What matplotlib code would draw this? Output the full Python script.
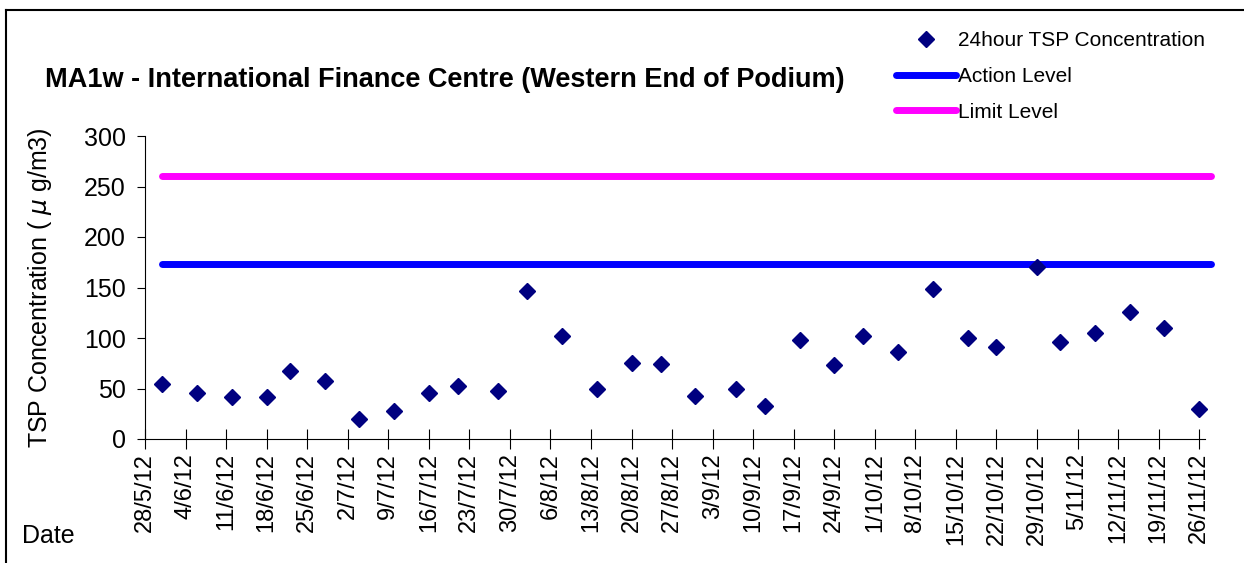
import datetime as dt
import matplotlib
matplotlib.use('Agg')
import matplotlib.pyplot as plt
from matplotlib.lines import Line2D

plt.rcParams['font.family'] = ['Liberation Sans', 'DejaVu Sans']

# sampling dates of the 24 hour TSP measurements
dates = ['31/5/12', '6/6/12', '12/6/12', '18/6/12', '22/6/12', '28/6/12',
         '4/7/12', '10/7/12', '16/7/12', '21/7/12', '28/7/12', '2/8/12',
         '8/8/12', '14/8/12', '20/8/12', '25/8/12', '31/8/12', '7/9/12',
         '12/9/12', '18/9/12', '24/9/12', '29/9/12', '5/10/12', '11/10/12',
         '17/10/12', '22/10/12', '29/10/12', '2/11/12', '8/11/12', '14/11/12',
         '20/11/12', '26/11/12']
tsp = [54, 46, 42, 42, 67, 57, 20, 28, 46, 52, 48, 147,
       102, 50, 75, 74, 43, 50, 33, 98, 73, 102, 86, 149,
       100, 91, 170, 96, 105, 126, 110, 30]

action_level = 173
limit_level = 260
level_start = '31/5/12'
level_end = '28/11/12'

tick_start = '28/5/12'
tick_end = '26/11/12'
axis_end = '27/11/12'


def d(s):
    return dt.datetime.strptime(s, '%d/%m/%y')


x = [d(s) for s in dates]

fig = plt.figure(figsize=(12.44, 5.63), dpi=100)
ax = fig.add_axes([145 / 1244, 1 - 439 / 563, (1205 - 145) / 1244, (439 - 136) / 563])

ax.plot([d(level_start), d(level_end)], [action_level] * 2, color='#0000ff', lw=5,
        solid_capstyle='round', clip_on=False, label='Action Level', zorder=2)
ax.plot([d(level_start), d(level_end)], [limit_level] * 2, color='#ff00ff', lw=5,
        solid_capstyle='round', clip_on=False, label='Limit Level', zorder=2)
ax.plot(x, tsp, ls='none', marker='D', ms=8, color='#000080',
        label='24hour TSP Concentration', zorder=3, clip_on=False)

ax.set_xlim(d(tick_start), d(axis_end))
ax.set_ylim(0, 300)

ticks = []
t = d(tick_start)
while t <= d(tick_end):
    ticks.append(t)
    t += dt.timedelta(days=7)
ax.set_xticks(ticks)
ax.set_xticklabels([f'{t.day}/{t.month}/{t.strftime("%y")}' for t in ticks],
                   rotation=90, fontsize=17)
ax.set_yticks(range(0, 301, 50))
ax.tick_params(axis='y', direction='out', length=6, labelsize=18, pad=8)
ax.tick_params(axis='x', direction='inout', length=14, pad=3)

for s in ['top', 'right']:
    ax.spines[s].set_visible(False)

ax.set_ylabel('TSP Concentration ( $\\mu$ g/m3)', fontsize=18)
ax.yaxis.set_label_coords(-0.086, 0.5)

fig.text(45 / 1244, 1 - 80 / 563, 'MA1w - International Finance Centre (Western End of Podium)',
         fontsize=19.5, fontweight='bold', ha='left', va='center')
fig.text(22 / 1244, 1 - 536 / 563, 'Date', fontsize=18, ha='left', va='center')

h, l = ax.get_legend_handles_labels()
order = [2, 0, 1]
leg = fig.legend([h[i] for i in order], [l[i] for i in order], loc='upper left',
                 bbox_to_anchor=(886 / 1244, 1 - 21 / 563), frameon=False, fontsize=15,
                 handlelength=2.85, handletextpad=0.1, labelspacing=0.8, borderpad=0)

# outer frame
fig.add_artist(Line2D([6 / 1244, 1], [1 - 10 / 563] * 2, color='black', lw=1.5))
fig.add_artist(Line2D([6 / 1244] * 2, [0, 1 - 10 / 563], color='black', lw=1.5))

fig.savefig('out.png', dpi=100)
